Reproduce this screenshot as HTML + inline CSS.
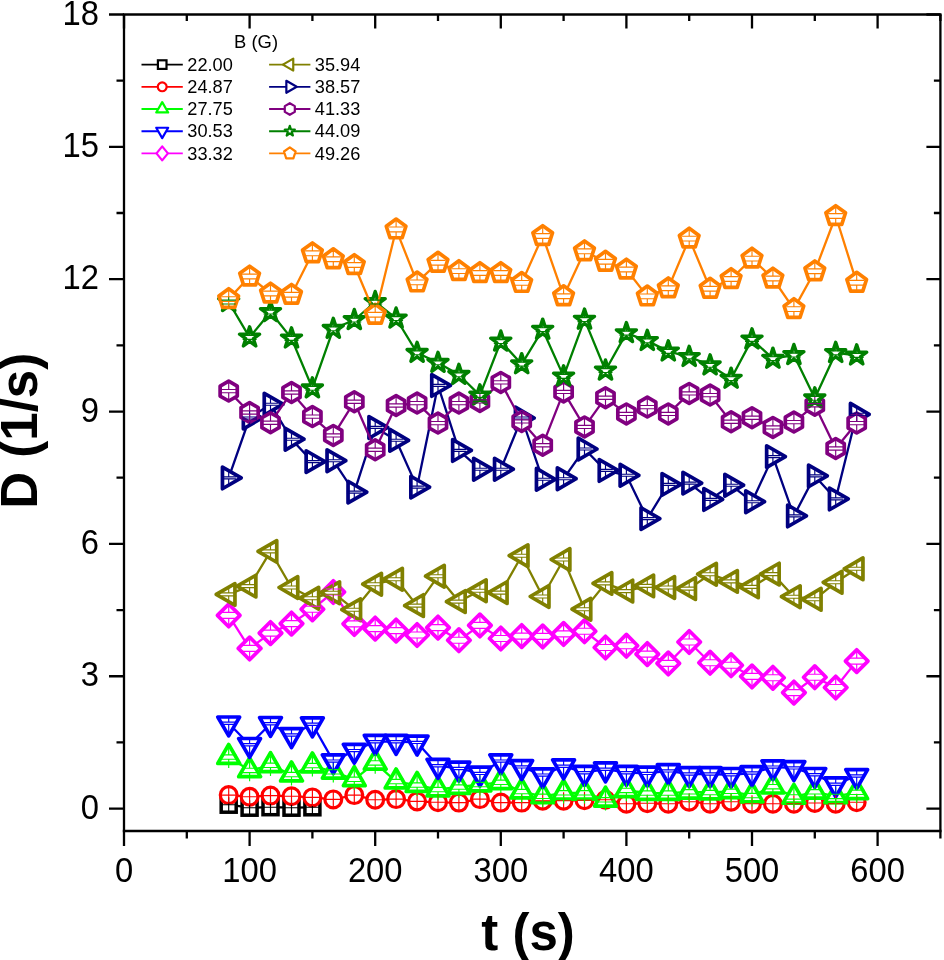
<!DOCTYPE html>
<html><head><meta charset="utf-8"><title>D vs t</title>
<style>html,body{margin:0;padding:0;background:#fff}svg{display:block}</style>
</head><body>
<svg width="944" height="960" viewBox="0 0 944 960">
<rect width="944" height="960" fill="#fff"/>
<defs>
<g id="m_black"><rect x="-7.5" y="-7.5" width="15" height="15" fill="#fff" stroke="#000000" stroke-width="3.5" stroke-linejoin="miter"/></g><path id="e_black" d="M0,-7.5V7.5M-7.0,0H7.0" fill="none" stroke="#000000" stroke-width="1.15"/>
<g id="m_red"><circle r="8.4" fill="#fff" stroke="#ff0000" stroke-width="3.2" stroke-linejoin="round"/></g><path id="e_red" d="M0,-8.5V8.5M-7.6,0H7.6" fill="none" stroke="#ff0000" stroke-width="1.15"/>
<g id="m_lgreen"><polygon points="0.00,-12.60 10.91,6.30 -10.91,6.30" fill="#fff" stroke="#00ff00" stroke-width="3.7" stroke-linejoin="round"/></g><path id="e_lgreen" d="M0,-9.0V-2.2M0,2.2V10.8M-7.6,-2.20H7.6M-7.6,2.20H7.6" fill="none" stroke="#00ff00" stroke-width="1.15"/>
<g id="m_blue"><polygon points="0.00,12.60 -10.91,-6.30 10.91,-6.30" fill="#fff" stroke="#0000ff" stroke-width="3.7" stroke-linejoin="round"/></g><path id="e_blue" d="M0,-7.0V-1.1M0,1.1V10.0M-7.6,-1.10H7.6M-7.6,1.10H7.6" fill="none" stroke="#0000ff" stroke-width="1.15"/>
<g id="m_magenta"><polygon points="0.00,-11.30 11.30,0.00 0.00,11.30 -11.30,0.00" fill="#fff" stroke="#ff00ff" stroke-width="3.7" stroke-linejoin="round"/></g><path id="e_magenta" d="M0,-10.0V-3.0M0,3.0V10.0M-7.6,-3.00H7.6M-7.6,3.00H7.6" fill="none" stroke="#ff00ff" stroke-width="1.15"/>
<g id="m_olive"><polygon points="-12.50,0.00 6.25,-10.83 6.25,10.83" fill="#fff" stroke="#808000" stroke-width="3.7" stroke-linejoin="round"/></g><path id="e_olive" d="M0,-7.0V-1.5M0,1.5V7.0M-7.4,-1.50H7.4M-7.4,1.50H7.4" fill="none" stroke="#808000" stroke-width="1.15"/>
<g id="m_navy"><polygon points="12.50,0.00 -6.25,10.83 -6.25,-10.83" fill="#fff" stroke="#000080" stroke-width="3.7" stroke-linejoin="round"/></g><path id="e_navy" d="M0,-7.0V-1.0M0,1.0V7.0M-7.4,-1.00H7.4M-7.4,1.00H7.4" fill="none" stroke="#000080" stroke-width="1.15"/>
<g id="m_purple"><polygon points="0.00,-9.90 8.57,-4.95 8.57,4.95 0.00,9.90 -8.57,4.95 -8.57,-4.95" fill="#fff" stroke="#800080" stroke-width="3.7" stroke-linejoin="round"/></g><path id="e_purple" d="M0,-10.0V-1.6M0,1.6V10.0M-7.6,-1.60H7.6M-7.6,1.60H7.6" fill="none" stroke="#800080" stroke-width="1.15"/>
<g id="m_dgreen"><polygon points="0.00,-10.55 2.38,-3.28 10.03,-3.26 3.85,1.25 6.20,8.54 0.00,4.05 -6.20,8.54 -3.85,1.25 -10.03,-3.26 -2.38,-3.28" fill="#fff" stroke="#008000" stroke-width="3.4" stroke-linejoin="round"/></g><path id="e_dgreen" d="M0,-6.0V-1.9M0,1.9V5.2M-7.0,-1.95H7.0M-7.0,1.95H7.0" fill="none" stroke="#008000" stroke-width="1.15"/>
<g id="m_orange"><polygon points="0.00,-10.35 9.84,-3.20 6.08,8.37 -6.08,8.37 -9.84,-3.20" fill="#fff" stroke="#ff8000" stroke-width="3.7" stroke-linejoin="round"/></g><path id="e_orange" d="M0,-10.0V-2.4M0,2.4V9.5M-7.6,-2.40H7.6M-7.6,2.40H7.6" fill="none" stroke="#ff8000" stroke-width="1.15"/>
</defs>
<g stroke="#000" stroke-width="2.3" fill="none" stroke-linecap="butt">
<path d="M122.8,14.5H941.5"/>
<path d="M122.8,831.0H941.5"/>
<path d="M124.0,14.5V831.0"/>
<path d="M940.4,14.5V831.0"/>
<path d="M124.00,831.0v15.0M124.00,14.5v14.0M186.80,831.0v7.5M186.80,14.5v6.5M249.60,831.0v15.0M249.60,14.5v14.0M312.40,831.0v7.5M312.40,14.5v6.5M375.20,831.0v15.0M375.20,14.5v14.0M438.00,831.0v7.5M438.00,14.5v6.5M500.80,831.0v15.0M500.80,14.5v14.0M563.60,831.0v7.5M563.60,14.5v6.5M626.40,831.0v15.0M626.40,14.5v14.0M689.20,831.0v7.5M689.20,14.5v6.5M752.00,831.0v15.0M752.00,14.5v14.0M814.80,831.0v7.5M814.80,14.5v6.5M877.60,831.0v15.0M877.60,14.5v14.0M940.40,831.0v7.5M940.40,14.5v6.5M124.0,808.60h-15.0M940.4,808.60h-14.0M124.0,742.42h-7.5M940.4,742.42h-6.5M124.0,676.25h-15.0M940.4,676.25h-14.0M124.0,610.07h-7.5M940.4,610.07h-6.5M124.0,543.90h-15.0M940.4,543.90h-14.0M124.0,477.72h-7.5M940.4,477.72h-6.5M124.0,411.55h-15.0M940.4,411.55h-14.0M124.0,345.37h-7.5M940.4,345.37h-6.5M124.0,279.20h-15.0M940.4,279.20h-14.0M124.0,213.02h-7.5M940.4,213.02h-6.5M124.0,146.85h-15.0M940.4,146.85h-14.0M124.0,80.67h-7.5M940.4,80.67h-6.5M124.0,14.49h-15.0M940.4,14.49h-14.0"/>
</g>
<g font-family="'Liberation Sans', Arial, sans-serif" font-size="34.5" fill="#000">
<text transform="translate(124.0,882.1) scale(0.95,1)" text-anchor="middle">0</text>
<text transform="translate(249.6,882.1) scale(0.95,1)" text-anchor="middle">100</text>
<text transform="translate(375.2,882.1) scale(0.95,1)" text-anchor="middle">200</text>
<text transform="translate(500.8,882.1) scale(0.95,1)" text-anchor="middle">300</text>
<text transform="translate(626.4,882.1) scale(0.95,1)" text-anchor="middle">400</text>
<text transform="translate(752.0,882.1) scale(0.95,1)" text-anchor="middle">500</text>
<text transform="translate(877.6,882.1) scale(0.95,1)" text-anchor="middle">600</text>
<text transform="translate(99,818.8) scale(0.95,1)" text-anchor="end">0</text>
<text transform="translate(99,686.4) scale(0.95,1)" text-anchor="end">3</text>
<text transform="translate(99,554.1) scale(0.95,1)" text-anchor="end">6</text>
<text transform="translate(99,421.7) scale(0.95,1)" text-anchor="end">9</text>
<text transform="translate(99,289.4) scale(0.95,1)" text-anchor="end">12</text>
<text transform="translate(99,157.0) scale(0.95,1)" text-anchor="end">15</text>
<text transform="translate(99,24.7) scale(0.95,1)" text-anchor="end">18</text>
</g>
<g font-family="'Liberation Sans', Arial, sans-serif" font-size="51" font-weight="bold" fill="#000">
<text x="481.3" y="949.7">t (s)</text>
<text transform="translate(36.6,508.7) rotate(-90)">D (1/s)</text>
</g>
<g>
<polyline points="228.67,804.70 249.60,807.70 270.53,807.20 291.47,807.70 312.40,807.30" fill="none" stroke="#000000" stroke-width="2.3" stroke-linejoin="round"/>
<use href="#m_black" x="228.7" y="804.7"/>
<use href="#m_black" x="249.6" y="807.7"/>
<use href="#m_black" x="270.5" y="807.2"/>
<use href="#m_black" x="291.5" y="807.7"/>
<use href="#m_black" x="312.4" y="807.3"/>
</g>
<g>
<polyline points="228.67,795.10 249.60,796.70 270.53,795.60 291.47,796.20 312.40,797.40 333.33,799.40 354.27,795.10 375.20,799.80 396.13,799.10 417.07,801.40 438.00,802.30 458.93,802.60 479.87,799.10 500.80,802.60 521.73,802.60 542.67,800.70 563.60,800.70 584.53,800.20 605.47,799.80 626.40,803.70 647.33,803.30 668.27,803.70 689.20,801.70 710.13,803.70 731.07,801.70 752.00,803.70 772.93,803.70 793.87,803.70 814.80,803.00 835.73,803.70 856.67,802.20" fill="none" stroke="#ff0000" stroke-width="2.3" stroke-linejoin="round"/>
<use href="#m_red" x="228.7" y="795.1"/>
<use href="#m_red" x="249.6" y="796.7"/>
<use href="#m_red" x="270.5" y="795.6"/>
<use href="#m_red" x="291.5" y="796.2"/>
<use href="#m_red" x="312.4" y="797.4"/>
<use href="#m_red" x="333.3" y="799.4"/>
<use href="#m_red" x="354.3" y="795.1"/>
<use href="#m_red" x="375.2" y="799.8"/>
<use href="#m_red" x="396.1" y="799.1"/>
<use href="#m_red" x="417.1" y="801.4"/>
<use href="#m_red" x="438.0" y="802.3"/>
<use href="#m_red" x="458.9" y="802.6"/>
<use href="#m_red" x="479.9" y="799.1"/>
<use href="#m_red" x="500.8" y="802.6"/>
<use href="#m_red" x="521.7" y="802.6"/>
<use href="#m_red" x="542.7" y="800.7"/>
<use href="#m_red" x="563.6" y="800.7"/>
<use href="#m_red" x="584.5" y="800.2"/>
<use href="#m_red" x="605.5" y="799.8"/>
<use href="#m_red" x="626.4" y="803.7"/>
<use href="#m_red" x="647.3" y="803.3"/>
<use href="#m_red" x="668.3" y="803.7"/>
<use href="#m_red" x="689.2" y="801.7"/>
<use href="#m_red" x="710.1" y="803.7"/>
<use href="#m_red" x="731.1" y="801.7"/>
<use href="#m_red" x="752.0" y="803.7"/>
<use href="#m_red" x="772.9" y="803.7"/>
<use href="#m_red" x="793.9" y="803.7"/>
<use href="#m_red" x="814.8" y="803.0"/>
<use href="#m_red" x="835.7" y="803.7"/>
<use href="#m_red" x="856.7" y="802.2"/>
</g>
<g>
<polyline points="228.67,757.10 249.60,770.40 270.53,765.30 291.47,774.60 312.40,765.60 333.33,771.80 354.27,779.30 375.20,762.90 396.13,781.60 417.07,785.10 438.00,789.50 458.93,787.00 479.87,784.60 500.80,782.30 521.73,791.60 542.67,796.30 563.60,792.80 584.53,792.80 605.47,799.80 626.40,790.40 647.33,793.00 668.27,793.10 689.20,791.80 710.13,792.50 731.07,791.30 752.00,795.60 772.93,786.70 793.87,796.90 814.80,791.80 835.73,796.40 856.67,792.30" fill="none" stroke="#00ff00" stroke-width="2.3" stroke-linejoin="round"/>
<use href="#m_lgreen" x="228.7" y="757.1"/>
<use href="#m_lgreen" x="249.6" y="770.4"/>
<use href="#m_lgreen" x="270.5" y="765.3"/>
<use href="#m_lgreen" x="291.5" y="774.6"/>
<use href="#m_lgreen" x="312.4" y="765.6"/>
<use href="#m_lgreen" x="333.3" y="771.8"/>
<use href="#m_lgreen" x="354.3" y="779.3"/>
<use href="#m_lgreen" x="375.2" y="762.9"/>
<use href="#m_lgreen" x="396.1" y="781.6"/>
<use href="#m_lgreen" x="417.1" y="785.1"/>
<use href="#m_lgreen" x="438.0" y="789.5"/>
<use href="#m_lgreen" x="458.9" y="787.0"/>
<use href="#m_lgreen" x="479.9" y="784.6"/>
<use href="#m_lgreen" x="500.8" y="782.3"/>
<use href="#m_lgreen" x="521.7" y="791.6"/>
<use href="#m_lgreen" x="542.7" y="796.3"/>
<use href="#m_lgreen" x="563.6" y="792.8"/>
<use href="#m_lgreen" x="584.5" y="792.8"/>
<use href="#m_lgreen" x="605.5" y="799.8"/>
<use href="#m_lgreen" x="626.4" y="790.4"/>
<use href="#m_lgreen" x="647.3" y="793.0"/>
<use href="#m_lgreen" x="668.3" y="793.1"/>
<use href="#m_lgreen" x="689.2" y="791.8"/>
<use href="#m_lgreen" x="710.1" y="792.5"/>
<use href="#m_lgreen" x="731.1" y="791.3"/>
<use href="#m_lgreen" x="752.0" y="795.6"/>
<use href="#m_lgreen" x="772.9" y="786.7"/>
<use href="#m_lgreen" x="793.9" y="796.9"/>
<use href="#m_lgreen" x="814.8" y="791.8"/>
<use href="#m_lgreen" x="835.7" y="796.4"/>
<use href="#m_lgreen" x="856.7" y="792.3"/>
</g>
<g>
<polyline points="228.67,723.30 249.60,744.80 270.53,723.80 291.47,735.00 312.40,724.20 333.33,761.10 354.27,750.60 375.20,741.70 396.13,741.70 417.07,742.40 438.00,765.70 458.93,768.50 479.87,773.40 500.80,761.10 521.73,766.90 542.67,775.10 563.60,766.20 584.53,772.70 605.47,769.20 626.40,772.70 647.33,773.40 668.27,770.90 689.20,774.00 710.13,774.00 731.07,774.80 752.00,773.00 772.93,767.10 793.87,767.90 814.80,774.80 835.73,784.20 856.67,776.00" fill="none" stroke="#0000ff" stroke-width="2.3" stroke-linejoin="round"/>
<use href="#m_blue" x="228.7" y="723.3"/>
<use href="#m_blue" x="249.6" y="744.8"/>
<use href="#m_blue" x="270.5" y="723.8"/>
<use href="#m_blue" x="291.5" y="735.0"/>
<use href="#m_blue" x="312.4" y="724.2"/>
<use href="#m_blue" x="333.3" y="761.1"/>
<use href="#m_blue" x="354.3" y="750.6"/>
<use href="#m_blue" x="375.2" y="741.7"/>
<use href="#m_blue" x="396.1" y="741.7"/>
<use href="#m_blue" x="417.1" y="742.4"/>
<use href="#m_blue" x="438.0" y="765.7"/>
<use href="#m_blue" x="458.9" y="768.5"/>
<use href="#m_blue" x="479.9" y="773.4"/>
<use href="#m_blue" x="500.8" y="761.1"/>
<use href="#m_blue" x="521.7" y="766.9"/>
<use href="#m_blue" x="542.7" y="775.1"/>
<use href="#m_blue" x="563.6" y="766.2"/>
<use href="#m_blue" x="584.5" y="772.7"/>
<use href="#m_blue" x="605.5" y="769.2"/>
<use href="#m_blue" x="626.4" y="772.7"/>
<use href="#m_blue" x="647.3" y="773.4"/>
<use href="#m_blue" x="668.3" y="770.9"/>
<use href="#m_blue" x="689.2" y="774.0"/>
<use href="#m_blue" x="710.1" y="774.0"/>
<use href="#m_blue" x="731.1" y="774.8"/>
<use href="#m_blue" x="752.0" y="773.0"/>
<use href="#m_blue" x="772.9" y="767.1"/>
<use href="#m_blue" x="793.9" y="767.9"/>
<use href="#m_blue" x="814.8" y="774.8"/>
<use href="#m_blue" x="835.7" y="784.2"/>
<use href="#m_blue" x="856.7" y="776.0"/>
</g>
<g>
<polyline points="228.67,615.40 249.60,648.40 270.53,633.10 291.47,623.60 312.40,609.30 333.33,592.00 354.27,623.90 375.20,628.60 396.13,630.60 417.07,635.00 438.00,627.60 458.93,640.20 479.87,625.40 500.80,638.50 521.73,636.10 542.67,636.40 563.60,633.90 584.53,631.20 605.47,647.50 626.40,645.70 647.33,654.10 668.27,663.40 689.20,642.00 710.13,662.70 731.07,665.20 752.00,676.40 772.93,677.80 793.87,692.60 814.80,677.20 835.73,687.50 856.67,661.10" fill="none" stroke="#ff00ff" stroke-width="2.3" stroke-linejoin="round"/>
<use href="#m_magenta" x="228.7" y="615.4"/>
<use href="#m_magenta" x="249.6" y="648.4"/>
<use href="#m_magenta" x="270.5" y="633.1"/>
<use href="#m_magenta" x="291.5" y="623.6"/>
<use href="#m_magenta" x="312.4" y="609.3"/>
<use href="#m_magenta" x="333.3" y="592.0"/>
<use href="#m_magenta" x="354.3" y="623.9"/>
<use href="#m_magenta" x="375.2" y="628.6"/>
<use href="#m_magenta" x="396.1" y="630.6"/>
<use href="#m_magenta" x="417.1" y="635.0"/>
<use href="#m_magenta" x="438.0" y="627.6"/>
<use href="#m_magenta" x="458.9" y="640.2"/>
<use href="#m_magenta" x="479.9" y="625.4"/>
<use href="#m_magenta" x="500.8" y="638.5"/>
<use href="#m_magenta" x="521.7" y="636.1"/>
<use href="#m_magenta" x="542.7" y="636.4"/>
<use href="#m_magenta" x="563.6" y="633.9"/>
<use href="#m_magenta" x="584.5" y="631.2"/>
<use href="#m_magenta" x="605.5" y="647.5"/>
<use href="#m_magenta" x="626.4" y="645.7"/>
<use href="#m_magenta" x="647.3" y="654.1"/>
<use href="#m_magenta" x="668.3" y="663.4"/>
<use href="#m_magenta" x="689.2" y="642.0"/>
<use href="#m_magenta" x="710.1" y="662.7"/>
<use href="#m_magenta" x="731.1" y="665.2"/>
<use href="#m_magenta" x="752.0" y="676.4"/>
<use href="#m_magenta" x="772.9" y="677.8"/>
<use href="#m_magenta" x="793.9" y="692.6"/>
<use href="#m_magenta" x="814.8" y="677.2"/>
<use href="#m_magenta" x="835.7" y="687.5"/>
<use href="#m_magenta" x="856.7" y="661.1"/>
</g>
<g>
<polyline points="228.67,594.40 249.60,586.10 270.53,551.40 291.47,587.50 312.40,598.20 333.33,592.70 354.27,609.70 375.20,584.20 396.13,579.20 417.07,605.60 438.00,576.20 458.93,601.60 479.87,590.70 500.80,592.60 521.73,555.70 542.67,596.50 563.60,559.50 584.53,609.20 605.47,583.40 626.40,591.10 647.33,585.90 668.27,587.50 689.20,588.60 710.13,574.20 731.07,581.40 752.00,586.90 772.93,574.10 793.87,596.70 814.80,599.30 835.73,582.30 856.67,568.80" fill="none" stroke="#808000" stroke-width="2.3" stroke-linejoin="round"/>
<use href="#m_olive" x="228.7" y="594.4"/>
<use href="#m_olive" x="249.6" y="586.1"/>
<use href="#m_olive" x="270.5" y="551.4"/>
<use href="#m_olive" x="291.5" y="587.5"/>
<use href="#m_olive" x="312.4" y="598.2"/>
<use href="#m_olive" x="333.3" y="592.7"/>
<use href="#m_olive" x="354.3" y="609.7"/>
<use href="#m_olive" x="375.2" y="584.2"/>
<use href="#m_olive" x="396.1" y="579.2"/>
<use href="#m_olive" x="417.1" y="605.6"/>
<use href="#m_olive" x="438.0" y="576.2"/>
<use href="#m_olive" x="458.9" y="601.6"/>
<use href="#m_olive" x="479.9" y="590.7"/>
<use href="#m_olive" x="500.8" y="592.6"/>
<use href="#m_olive" x="521.7" y="555.7"/>
<use href="#m_olive" x="542.7" y="596.5"/>
<use href="#m_olive" x="563.6" y="559.5"/>
<use href="#m_olive" x="584.5" y="609.2"/>
<use href="#m_olive" x="605.5" y="583.4"/>
<use href="#m_olive" x="626.4" y="591.1"/>
<use href="#m_olive" x="647.3" y="585.9"/>
<use href="#m_olive" x="668.3" y="587.5"/>
<use href="#m_olive" x="689.2" y="588.6"/>
<use href="#m_olive" x="710.1" y="574.2"/>
<use href="#m_olive" x="731.1" y="581.4"/>
<use href="#m_olive" x="752.0" y="586.9"/>
<use href="#m_olive" x="772.9" y="574.1"/>
<use href="#m_olive" x="793.9" y="596.7"/>
<use href="#m_olive" x="814.8" y="599.3"/>
<use href="#m_olive" x="835.7" y="582.3"/>
<use href="#m_olive" x="856.7" y="568.8"/>
</g>
<g>
<polyline points="228.67,477.90 249.60,418.00 270.53,404.20 291.47,439.20 312.40,461.60 333.33,460.70 354.27,492.10 375.20,427.40 396.13,440.30 417.07,487.10 438.00,385.40 458.93,450.40 479.87,469.20 500.80,469.20 521.73,418.00 542.67,479.30 563.60,478.70 584.53,449.00 605.47,470.40 626.40,475.30 647.33,518.60 668.27,484.40 689.20,483.10 710.13,499.40 731.07,485.20 752.00,501.70 772.93,456.60 793.87,515.90 814.80,475.90 835.73,498.90 856.67,414.30" fill="none" stroke="#000080" stroke-width="2.3" stroke-linejoin="round"/>
<use href="#m_navy" x="228.7" y="477.9"/>
<use href="#m_navy" x="249.6" y="418.0"/>
<use href="#m_navy" x="270.5" y="404.2"/>
<use href="#m_navy" x="291.5" y="439.2"/>
<use href="#m_navy" x="312.4" y="461.6"/>
<use href="#m_navy" x="333.3" y="460.7"/>
<use href="#m_navy" x="354.3" y="492.1"/>
<use href="#m_navy" x="375.2" y="427.4"/>
<use href="#m_navy" x="396.1" y="440.3"/>
<use href="#m_navy" x="417.1" y="487.1"/>
<use href="#m_navy" x="438.0" y="385.4"/>
<use href="#m_navy" x="458.9" y="450.4"/>
<use href="#m_navy" x="479.9" y="469.2"/>
<use href="#m_navy" x="500.8" y="469.2"/>
<use href="#m_navy" x="521.7" y="418.0"/>
<use href="#m_navy" x="542.7" y="479.3"/>
<use href="#m_navy" x="563.6" y="478.7"/>
<use href="#m_navy" x="584.5" y="449.0"/>
<use href="#m_navy" x="605.5" y="470.4"/>
<use href="#m_navy" x="626.4" y="475.3"/>
<use href="#m_navy" x="647.3" y="518.6"/>
<use href="#m_navy" x="668.3" y="484.4"/>
<use href="#m_navy" x="689.2" y="483.1"/>
<use href="#m_navy" x="710.1" y="499.4"/>
<use href="#m_navy" x="731.1" y="485.2"/>
<use href="#m_navy" x="752.0" y="501.7"/>
<use href="#m_navy" x="772.9" y="456.6"/>
<use href="#m_navy" x="793.9" y="515.9"/>
<use href="#m_navy" x="814.8" y="475.9"/>
<use href="#m_navy" x="835.7" y="498.9"/>
<use href="#m_navy" x="856.7" y="414.3"/>
</g>
<g>
<polyline points="228.67,391.10 249.60,412.50 270.53,422.70 291.47,392.50 312.40,416.60 333.33,435.40 354.27,401.80 375.20,449.80 396.13,405.50 417.07,403.10 438.00,423.10 458.93,403.10 479.87,401.40 500.80,382.40 521.73,421.40 542.67,445.20 563.60,391.90 584.53,426.90 605.47,397.70 626.40,413.90 647.33,407.10 668.27,413.90 689.20,393.40 710.13,395.10 731.07,421.80 752.00,417.70 772.93,427.40 793.87,422.10 814.80,405.20 835.73,448.50 856.67,423.10" fill="none" stroke="#800080" stroke-width="2.3" stroke-linejoin="round"/>
<use href="#m_purple" x="228.7" y="391.1"/>
<use href="#m_purple" x="249.6" y="412.5"/>
<use href="#m_purple" x="270.5" y="422.7"/>
<use href="#m_purple" x="291.5" y="392.5"/>
<use href="#m_purple" x="312.4" y="416.6"/>
<use href="#m_purple" x="333.3" y="435.4"/>
<use href="#m_purple" x="354.3" y="401.8"/>
<use href="#m_purple" x="375.2" y="449.8"/>
<use href="#m_purple" x="396.1" y="405.5"/>
<use href="#m_purple" x="417.1" y="403.1"/>
<use href="#m_purple" x="438.0" y="423.1"/>
<use href="#m_purple" x="458.9" y="403.1"/>
<use href="#m_purple" x="479.9" y="401.4"/>
<use href="#m_purple" x="500.8" y="382.4"/>
<use href="#m_purple" x="521.7" y="421.4"/>
<use href="#m_purple" x="542.7" y="445.2"/>
<use href="#m_purple" x="563.6" y="391.9"/>
<use href="#m_purple" x="584.5" y="426.9"/>
<use href="#m_purple" x="605.5" y="397.7"/>
<use href="#m_purple" x="626.4" y="413.9"/>
<use href="#m_purple" x="647.3" y="407.1"/>
<use href="#m_purple" x="668.3" y="413.9"/>
<use href="#m_purple" x="689.2" y="393.4"/>
<use href="#m_purple" x="710.1" y="395.1"/>
<use href="#m_purple" x="731.1" y="421.8"/>
<use href="#m_purple" x="752.0" y="417.7"/>
<use href="#m_purple" x="772.9" y="427.4"/>
<use href="#m_purple" x="793.9" y="422.1"/>
<use href="#m_purple" x="814.8" y="405.2"/>
<use href="#m_purple" x="835.7" y="448.5"/>
<use href="#m_purple" x="856.7" y="423.1"/>
</g>
<g>
<polyline points="228.67,302.00 249.60,337.40 270.53,312.00 291.47,338.40 312.40,388.30 333.33,328.80 354.27,320.00 375.20,302.00 396.13,318.50 417.07,352.80 438.00,362.80 458.93,374.80 479.87,395.40 500.80,341.50 521.73,364.20 542.67,329.70 563.60,376.40 584.53,319.60 605.47,370.50 626.40,333.10 647.33,340.90 668.27,351.40 689.20,356.90 710.13,365.30 731.07,378.70 752.00,339.40 772.93,358.70 793.87,355.00 814.80,398.30 835.73,352.90 856.67,355.40" fill="none" stroke="#008000" stroke-width="2.3" stroke-linejoin="round"/>
<use href="#m_dgreen" x="228.7" y="302.0"/>
<use href="#m_dgreen" x="249.6" y="337.4"/>
<use href="#m_dgreen" x="270.5" y="312.0"/>
<use href="#m_dgreen" x="291.5" y="338.4"/>
<use href="#m_dgreen" x="312.4" y="388.3"/>
<use href="#m_dgreen" x="333.3" y="328.8"/>
<use href="#m_dgreen" x="354.3" y="320.0"/>
<use href="#m_dgreen" x="375.2" y="302.0"/>
<use href="#m_dgreen" x="396.1" y="318.5"/>
<use href="#m_dgreen" x="417.1" y="352.8"/>
<use href="#m_dgreen" x="438.0" y="362.8"/>
<use href="#m_dgreen" x="458.9" y="374.8"/>
<use href="#m_dgreen" x="479.9" y="395.4"/>
<use href="#m_dgreen" x="500.8" y="341.5"/>
<use href="#m_dgreen" x="521.7" y="364.2"/>
<use href="#m_dgreen" x="542.7" y="329.7"/>
<use href="#m_dgreen" x="563.6" y="376.4"/>
<use href="#m_dgreen" x="584.5" y="319.6"/>
<use href="#m_dgreen" x="605.5" y="370.5"/>
<use href="#m_dgreen" x="626.4" y="333.1"/>
<use href="#m_dgreen" x="647.3" y="340.9"/>
<use href="#m_dgreen" x="668.3" y="351.4"/>
<use href="#m_dgreen" x="689.2" y="356.9"/>
<use href="#m_dgreen" x="710.1" y="365.3"/>
<use href="#m_dgreen" x="731.1" y="378.7"/>
<use href="#m_dgreen" x="752.0" y="339.4"/>
<use href="#m_dgreen" x="772.9" y="358.7"/>
<use href="#m_dgreen" x="793.9" y="355.0"/>
<use href="#m_dgreen" x="814.8" y="398.3"/>
<use href="#m_dgreen" x="835.7" y="352.9"/>
<use href="#m_dgreen" x="856.7" y="355.4"/>
</g>
<g>
<polyline points="228.67,299.10 249.60,276.50 270.53,293.50 291.47,294.80 312.40,253.30 333.33,259.20 354.27,265.00 375.20,314.70 396.13,229.40 417.07,282.40 438.00,262.70 458.93,271.10 479.87,273.00 500.80,273.00 521.73,282.90 542.67,236.00 563.60,296.20 584.53,251.30 605.47,261.70 626.40,269.50 647.33,296.40 668.27,288.30 689.20,238.60 710.13,288.70 731.07,279.00 752.00,258.60 772.93,278.50 793.87,309.10 814.80,271.30 835.73,216.00 856.67,282.70" fill="none" stroke="#ff8000" stroke-width="2.3" stroke-linejoin="round"/>
<use href="#m_orange" x="228.7" y="299.1"/>
<use href="#m_orange" x="249.6" y="276.5"/>
<use href="#m_orange" x="270.5" y="293.5"/>
<use href="#m_orange" x="291.5" y="294.8"/>
<use href="#m_orange" x="312.4" y="253.3"/>
<use href="#m_orange" x="333.3" y="259.2"/>
<use href="#m_orange" x="354.3" y="265.0"/>
<use href="#m_orange" x="375.2" y="314.7"/>
<use href="#m_orange" x="396.1" y="229.4"/>
<use href="#m_orange" x="417.1" y="282.4"/>
<use href="#m_orange" x="438.0" y="262.7"/>
<use href="#m_orange" x="458.9" y="271.1"/>
<use href="#m_orange" x="479.9" y="273.0"/>
<use href="#m_orange" x="500.8" y="273.0"/>
<use href="#m_orange" x="521.7" y="282.9"/>
<use href="#m_orange" x="542.7" y="236.0"/>
<use href="#m_orange" x="563.6" y="296.2"/>
<use href="#m_orange" x="584.5" y="251.3"/>
<use href="#m_orange" x="605.5" y="261.7"/>
<use href="#m_orange" x="626.4" y="269.5"/>
<use href="#m_orange" x="647.3" y="296.4"/>
<use href="#m_orange" x="668.3" y="288.3"/>
<use href="#m_orange" x="689.2" y="238.6"/>
<use href="#m_orange" x="710.1" y="288.7"/>
<use href="#m_orange" x="731.1" y="279.0"/>
<use href="#m_orange" x="752.0" y="258.6"/>
<use href="#m_orange" x="772.9" y="278.5"/>
<use href="#m_orange" x="793.9" y="309.1"/>
<use href="#m_orange" x="814.8" y="271.3"/>
<use href="#m_orange" x="835.7" y="216.0"/>
<use href="#m_orange" x="856.7" y="282.7"/>
</g>
<g>
<use href="#e_black" x="228.7" y="804.7"/>
<use href="#e_black" x="249.6" y="807.7"/>
<use href="#e_black" x="270.5" y="807.2"/>
<use href="#e_black" x="291.5" y="807.7"/>
<use href="#e_black" x="312.4" y="807.3"/>
<use href="#e_red" x="228.7" y="795.1"/>
<use href="#e_red" x="249.6" y="796.7"/>
<use href="#e_red" x="270.5" y="795.6"/>
<use href="#e_red" x="291.5" y="796.2"/>
<use href="#e_red" x="312.4" y="797.4"/>
<use href="#e_red" x="333.3" y="799.4"/>
<use href="#e_red" x="354.3" y="795.1"/>
<use href="#e_red" x="375.2" y="799.8"/>
<use href="#e_red" x="396.1" y="799.1"/>
<use href="#e_red" x="417.1" y="801.4"/>
<use href="#e_red" x="438.0" y="802.3"/>
<use href="#e_red" x="458.9" y="802.6"/>
<use href="#e_red" x="479.9" y="799.1"/>
<use href="#e_red" x="500.8" y="802.6"/>
<use href="#e_red" x="521.7" y="802.6"/>
<use href="#e_red" x="542.7" y="800.7"/>
<use href="#e_red" x="563.6" y="800.7"/>
<use href="#e_red" x="584.5" y="800.2"/>
<use href="#e_red" x="605.5" y="799.8"/>
<use href="#e_red" x="626.4" y="803.7"/>
<use href="#e_red" x="647.3" y="803.3"/>
<use href="#e_red" x="668.3" y="803.7"/>
<use href="#e_red" x="689.2" y="801.7"/>
<use href="#e_red" x="710.1" y="803.7"/>
<use href="#e_red" x="731.1" y="801.7"/>
<use href="#e_red" x="752.0" y="803.7"/>
<use href="#e_red" x="772.9" y="803.7"/>
<use href="#e_red" x="793.9" y="803.7"/>
<use href="#e_red" x="814.8" y="803.0"/>
<use href="#e_red" x="835.7" y="803.7"/>
<use href="#e_red" x="856.7" y="802.2"/>
<use href="#e_lgreen" x="228.7" y="757.1"/>
<use href="#e_lgreen" x="249.6" y="770.4"/>
<use href="#e_lgreen" x="270.5" y="765.3"/>
<use href="#e_lgreen" x="291.5" y="774.6"/>
<use href="#e_lgreen" x="312.4" y="765.6"/>
<use href="#e_lgreen" x="333.3" y="771.8"/>
<use href="#e_lgreen" x="354.3" y="779.3"/>
<use href="#e_lgreen" x="375.2" y="762.9"/>
<use href="#e_lgreen" x="396.1" y="781.6"/>
<use href="#e_lgreen" x="417.1" y="785.1"/>
<use href="#e_lgreen" x="438.0" y="789.5"/>
<use href="#e_lgreen" x="458.9" y="787.0"/>
<use href="#e_lgreen" x="479.9" y="784.6"/>
<use href="#e_lgreen" x="500.8" y="782.3"/>
<use href="#e_lgreen" x="521.7" y="791.6"/>
<use href="#e_lgreen" x="542.7" y="796.3"/>
<use href="#e_lgreen" x="563.6" y="792.8"/>
<use href="#e_lgreen" x="584.5" y="792.8"/>
<use href="#e_lgreen" x="605.5" y="799.8"/>
<use href="#e_lgreen" x="626.4" y="790.4"/>
<use href="#e_lgreen" x="647.3" y="793.0"/>
<use href="#e_lgreen" x="668.3" y="793.1"/>
<use href="#e_lgreen" x="689.2" y="791.8"/>
<use href="#e_lgreen" x="710.1" y="792.5"/>
<use href="#e_lgreen" x="731.1" y="791.3"/>
<use href="#e_lgreen" x="752.0" y="795.6"/>
<use href="#e_lgreen" x="772.9" y="786.7"/>
<use href="#e_lgreen" x="793.9" y="796.9"/>
<use href="#e_lgreen" x="814.8" y="791.8"/>
<use href="#e_lgreen" x="835.7" y="796.4"/>
<use href="#e_lgreen" x="856.7" y="792.3"/>
<use href="#e_blue" x="228.7" y="723.3"/>
<use href="#e_blue" x="249.6" y="744.8"/>
<use href="#e_blue" x="270.5" y="723.8"/>
<use href="#e_blue" x="291.5" y="735.0"/>
<use href="#e_blue" x="312.4" y="724.2"/>
<use href="#e_blue" x="333.3" y="761.1"/>
<use href="#e_blue" x="354.3" y="750.6"/>
<use href="#e_blue" x="375.2" y="741.7"/>
<use href="#e_blue" x="396.1" y="741.7"/>
<use href="#e_blue" x="417.1" y="742.4"/>
<use href="#e_blue" x="438.0" y="765.7"/>
<use href="#e_blue" x="458.9" y="768.5"/>
<use href="#e_blue" x="479.9" y="773.4"/>
<use href="#e_blue" x="500.8" y="761.1"/>
<use href="#e_blue" x="521.7" y="766.9"/>
<use href="#e_blue" x="542.7" y="775.1"/>
<use href="#e_blue" x="563.6" y="766.2"/>
<use href="#e_blue" x="584.5" y="772.7"/>
<use href="#e_blue" x="605.5" y="769.2"/>
<use href="#e_blue" x="626.4" y="772.7"/>
<use href="#e_blue" x="647.3" y="773.4"/>
<use href="#e_blue" x="668.3" y="770.9"/>
<use href="#e_blue" x="689.2" y="774.0"/>
<use href="#e_blue" x="710.1" y="774.0"/>
<use href="#e_blue" x="731.1" y="774.8"/>
<use href="#e_blue" x="752.0" y="773.0"/>
<use href="#e_blue" x="772.9" y="767.1"/>
<use href="#e_blue" x="793.9" y="767.9"/>
<use href="#e_blue" x="814.8" y="774.8"/>
<use href="#e_blue" x="835.7" y="784.2"/>
<use href="#e_blue" x="856.7" y="776.0"/>
<use href="#e_magenta" x="228.7" y="615.4"/>
<use href="#e_magenta" x="249.6" y="648.4"/>
<use href="#e_magenta" x="270.5" y="633.1"/>
<use href="#e_magenta" x="291.5" y="623.6"/>
<use href="#e_magenta" x="312.4" y="609.3"/>
<use href="#e_magenta" x="333.3" y="592.0"/>
<use href="#e_magenta" x="354.3" y="623.9"/>
<use href="#e_magenta" x="375.2" y="628.6"/>
<use href="#e_magenta" x="396.1" y="630.6"/>
<use href="#e_magenta" x="417.1" y="635.0"/>
<use href="#e_magenta" x="438.0" y="627.6"/>
<use href="#e_magenta" x="458.9" y="640.2"/>
<use href="#e_magenta" x="479.9" y="625.4"/>
<use href="#e_magenta" x="500.8" y="638.5"/>
<use href="#e_magenta" x="521.7" y="636.1"/>
<use href="#e_magenta" x="542.7" y="636.4"/>
<use href="#e_magenta" x="563.6" y="633.9"/>
<use href="#e_magenta" x="584.5" y="631.2"/>
<use href="#e_magenta" x="605.5" y="647.5"/>
<use href="#e_magenta" x="626.4" y="645.7"/>
<use href="#e_magenta" x="647.3" y="654.1"/>
<use href="#e_magenta" x="668.3" y="663.4"/>
<use href="#e_magenta" x="689.2" y="642.0"/>
<use href="#e_magenta" x="710.1" y="662.7"/>
<use href="#e_magenta" x="731.1" y="665.2"/>
<use href="#e_magenta" x="752.0" y="676.4"/>
<use href="#e_magenta" x="772.9" y="677.8"/>
<use href="#e_magenta" x="793.9" y="692.6"/>
<use href="#e_magenta" x="814.8" y="677.2"/>
<use href="#e_magenta" x="835.7" y="687.5"/>
<use href="#e_magenta" x="856.7" y="661.1"/>
<use href="#e_olive" x="228.7" y="594.4"/>
<use href="#e_olive" x="249.6" y="586.1"/>
<use href="#e_olive" x="270.5" y="551.4"/>
<use href="#e_olive" x="291.5" y="587.5"/>
<use href="#e_olive" x="312.4" y="598.2"/>
<use href="#e_olive" x="333.3" y="592.7"/>
<use href="#e_olive" x="354.3" y="609.7"/>
<use href="#e_olive" x="375.2" y="584.2"/>
<use href="#e_olive" x="396.1" y="579.2"/>
<use href="#e_olive" x="417.1" y="605.6"/>
<use href="#e_olive" x="438.0" y="576.2"/>
<use href="#e_olive" x="458.9" y="601.6"/>
<use href="#e_olive" x="479.9" y="590.7"/>
<use href="#e_olive" x="500.8" y="592.6"/>
<use href="#e_olive" x="521.7" y="555.7"/>
<use href="#e_olive" x="542.7" y="596.5"/>
<use href="#e_olive" x="563.6" y="559.5"/>
<use href="#e_olive" x="584.5" y="609.2"/>
<use href="#e_olive" x="605.5" y="583.4"/>
<use href="#e_olive" x="626.4" y="591.1"/>
<use href="#e_olive" x="647.3" y="585.9"/>
<use href="#e_olive" x="668.3" y="587.5"/>
<use href="#e_olive" x="689.2" y="588.6"/>
<use href="#e_olive" x="710.1" y="574.2"/>
<use href="#e_olive" x="731.1" y="581.4"/>
<use href="#e_olive" x="752.0" y="586.9"/>
<use href="#e_olive" x="772.9" y="574.1"/>
<use href="#e_olive" x="793.9" y="596.7"/>
<use href="#e_olive" x="814.8" y="599.3"/>
<use href="#e_olive" x="835.7" y="582.3"/>
<use href="#e_olive" x="856.7" y="568.8"/>
<use href="#e_navy" x="228.7" y="477.9"/>
<use href="#e_navy" x="249.6" y="418.0"/>
<use href="#e_navy" x="270.5" y="404.2"/>
<use href="#e_navy" x="291.5" y="439.2"/>
<use href="#e_navy" x="312.4" y="461.6"/>
<use href="#e_navy" x="333.3" y="460.7"/>
<use href="#e_navy" x="354.3" y="492.1"/>
<use href="#e_navy" x="375.2" y="427.4"/>
<use href="#e_navy" x="396.1" y="440.3"/>
<use href="#e_navy" x="417.1" y="487.1"/>
<use href="#e_navy" x="438.0" y="385.4"/>
<use href="#e_navy" x="458.9" y="450.4"/>
<use href="#e_navy" x="479.9" y="469.2"/>
<use href="#e_navy" x="500.8" y="469.2"/>
<use href="#e_navy" x="521.7" y="418.0"/>
<use href="#e_navy" x="542.7" y="479.3"/>
<use href="#e_navy" x="563.6" y="478.7"/>
<use href="#e_navy" x="584.5" y="449.0"/>
<use href="#e_navy" x="605.5" y="470.4"/>
<use href="#e_navy" x="626.4" y="475.3"/>
<use href="#e_navy" x="647.3" y="518.6"/>
<use href="#e_navy" x="668.3" y="484.4"/>
<use href="#e_navy" x="689.2" y="483.1"/>
<use href="#e_navy" x="710.1" y="499.4"/>
<use href="#e_navy" x="731.1" y="485.2"/>
<use href="#e_navy" x="752.0" y="501.7"/>
<use href="#e_navy" x="772.9" y="456.6"/>
<use href="#e_navy" x="793.9" y="515.9"/>
<use href="#e_navy" x="814.8" y="475.9"/>
<use href="#e_navy" x="835.7" y="498.9"/>
<use href="#e_navy" x="856.7" y="414.3"/>
<use href="#e_purple" x="228.7" y="391.1"/>
<use href="#e_purple" x="249.6" y="412.5"/>
<use href="#e_purple" x="270.5" y="422.7"/>
<use href="#e_purple" x="291.5" y="392.5"/>
<use href="#e_purple" x="312.4" y="416.6"/>
<use href="#e_purple" x="333.3" y="435.4"/>
<use href="#e_purple" x="354.3" y="401.8"/>
<use href="#e_purple" x="375.2" y="449.8"/>
<use href="#e_purple" x="396.1" y="405.5"/>
<use href="#e_purple" x="417.1" y="403.1"/>
<use href="#e_purple" x="438.0" y="423.1"/>
<use href="#e_purple" x="458.9" y="403.1"/>
<use href="#e_purple" x="479.9" y="401.4"/>
<use href="#e_purple" x="500.8" y="382.4"/>
<use href="#e_purple" x="521.7" y="421.4"/>
<use href="#e_purple" x="542.7" y="445.2"/>
<use href="#e_purple" x="563.6" y="391.9"/>
<use href="#e_purple" x="584.5" y="426.9"/>
<use href="#e_purple" x="605.5" y="397.7"/>
<use href="#e_purple" x="626.4" y="413.9"/>
<use href="#e_purple" x="647.3" y="407.1"/>
<use href="#e_purple" x="668.3" y="413.9"/>
<use href="#e_purple" x="689.2" y="393.4"/>
<use href="#e_purple" x="710.1" y="395.1"/>
<use href="#e_purple" x="731.1" y="421.8"/>
<use href="#e_purple" x="752.0" y="417.7"/>
<use href="#e_purple" x="772.9" y="427.4"/>
<use href="#e_purple" x="793.9" y="422.1"/>
<use href="#e_purple" x="814.8" y="405.2"/>
<use href="#e_purple" x="835.7" y="448.5"/>
<use href="#e_purple" x="856.7" y="423.1"/>
<use href="#e_dgreen" x="228.7" y="302.0"/>
<use href="#e_dgreen" x="249.6" y="337.4"/>
<use href="#e_dgreen" x="270.5" y="312.0"/>
<use href="#e_dgreen" x="291.5" y="338.4"/>
<use href="#e_dgreen" x="312.4" y="388.3"/>
<use href="#e_dgreen" x="333.3" y="328.8"/>
<use href="#e_dgreen" x="354.3" y="320.0"/>
<use href="#e_dgreen" x="375.2" y="302.0"/>
<use href="#e_dgreen" x="396.1" y="318.5"/>
<use href="#e_dgreen" x="417.1" y="352.8"/>
<use href="#e_dgreen" x="438.0" y="362.8"/>
<use href="#e_dgreen" x="458.9" y="374.8"/>
<use href="#e_dgreen" x="479.9" y="395.4"/>
<use href="#e_dgreen" x="500.8" y="341.5"/>
<use href="#e_dgreen" x="521.7" y="364.2"/>
<use href="#e_dgreen" x="542.7" y="329.7"/>
<use href="#e_dgreen" x="563.6" y="376.4"/>
<use href="#e_dgreen" x="584.5" y="319.6"/>
<use href="#e_dgreen" x="605.5" y="370.5"/>
<use href="#e_dgreen" x="626.4" y="333.1"/>
<use href="#e_dgreen" x="647.3" y="340.9"/>
<use href="#e_dgreen" x="668.3" y="351.4"/>
<use href="#e_dgreen" x="689.2" y="356.9"/>
<use href="#e_dgreen" x="710.1" y="365.3"/>
<use href="#e_dgreen" x="731.1" y="378.7"/>
<use href="#e_dgreen" x="752.0" y="339.4"/>
<use href="#e_dgreen" x="772.9" y="358.7"/>
<use href="#e_dgreen" x="793.9" y="355.0"/>
<use href="#e_dgreen" x="814.8" y="398.3"/>
<use href="#e_dgreen" x="835.7" y="352.9"/>
<use href="#e_dgreen" x="856.7" y="355.4"/>
<use href="#e_orange" x="228.7" y="299.1"/>
<use href="#e_orange" x="249.6" y="276.5"/>
<use href="#e_orange" x="270.5" y="293.5"/>
<use href="#e_orange" x="291.5" y="294.8"/>
<use href="#e_orange" x="312.4" y="253.3"/>
<use href="#e_orange" x="333.3" y="259.2"/>
<use href="#e_orange" x="354.3" y="265.0"/>
<use href="#e_orange" x="375.2" y="314.7"/>
<use href="#e_orange" x="396.1" y="229.4"/>
<use href="#e_orange" x="417.1" y="282.4"/>
<use href="#e_orange" x="438.0" y="262.7"/>
<use href="#e_orange" x="458.9" y="271.1"/>
<use href="#e_orange" x="479.9" y="273.0"/>
<use href="#e_orange" x="500.8" y="273.0"/>
<use href="#e_orange" x="521.7" y="282.9"/>
<use href="#e_orange" x="542.7" y="236.0"/>
<use href="#e_orange" x="563.6" y="296.2"/>
<use href="#e_orange" x="584.5" y="251.3"/>
<use href="#e_orange" x="605.5" y="261.7"/>
<use href="#e_orange" x="626.4" y="269.5"/>
<use href="#e_orange" x="647.3" y="296.4"/>
<use href="#e_orange" x="668.3" y="288.3"/>
<use href="#e_orange" x="689.2" y="238.6"/>
<use href="#e_orange" x="710.1" y="288.7"/>
<use href="#e_orange" x="731.1" y="279.0"/>
<use href="#e_orange" x="752.0" y="258.6"/>
<use href="#e_orange" x="772.9" y="278.5"/>
<use href="#e_orange" x="793.9" y="309.1"/>
<use href="#e_orange" x="814.8" y="271.3"/>
<use href="#e_orange" x="835.7" y="216.0"/>
<use href="#e_orange" x="856.7" y="282.7"/>
</g>
<g font-family="'Liberation Sans', Arial, sans-serif" font-size="18.2" fill="#000">
<text x="234.1" y="48" font-size="18.4">B (G)</text>
<path d="M141.5,64.6H182.8" stroke="#000000" stroke-width="1.85"/>
<g transform="translate(162.2,64.6)" fill="#fff" stroke="#000000" stroke-width="2.2" stroke-linejoin="miter"><rect x="-4.3" y="-4.3" width="8.6" height="8.6"/></g>
<text x="187.3" y="70.7">22.00</text>
<path d="M141.5,86.8H182.8" stroke="#ff0000" stroke-width="1.85"/>
<g transform="translate(162.2,86.8)" fill="#fff" stroke="#ff0000" stroke-width="2.2" stroke-linejoin="round"><circle r="4.45"/></g>
<text x="187.3" y="92.9">24.87</text>
<path d="M141.5,109.0H182.8" stroke="#00ff00" stroke-width="1.85"/>
<g transform="translate(162.2,109.0)" fill="#fff" stroke="#00ff00" stroke-width="2.2" stroke-linejoin="round"><polygon points="0.00,-6.90 5.98,3.45 -5.98,3.45"/></g>
<text x="187.3" y="115.1">27.75</text>
<path d="M141.5,131.2H182.8" stroke="#0000ff" stroke-width="1.85"/>
<g transform="translate(162.2,131.2)" fill="#fff" stroke="#0000ff" stroke-width="2.2" stroke-linejoin="round"><polygon points="0.00,6.90 -5.98,-3.45 5.98,-3.45"/></g>
<text x="187.3" y="137.3">30.53</text>
<path d="M141.5,153.4H182.8" stroke="#ff00ff" stroke-width="1.85"/>
<g transform="translate(162.2,153.4)" fill="#fff" stroke="#ff00ff" stroke-width="2.2" stroke-linejoin="round"><polygon points="-5.7,0 0,-7.0 5.7,0 0,7.0"/></g>
<text x="187.3" y="159.5">33.32</text>
<path d="M269.1,64.6H310.4" stroke="#808000" stroke-width="1.85"/>
<g transform="translate(289.8,64.6)" fill="#fff" stroke="#808000" stroke-width="2.2" stroke-linejoin="round"><polygon points="-6.90,0.00 3.45,-5.98 3.45,5.98"/></g>
<text x="314.8" y="70.7">35.94</text>
<path d="M269.1,86.8H310.4" stroke="#000080" stroke-width="1.85"/>
<g transform="translate(289.8,86.8)" fill="#fff" stroke="#000080" stroke-width="2.2" stroke-linejoin="round"><polygon points="6.90,0.00 -3.45,5.98 -3.45,-5.98"/></g>
<text x="314.8" y="92.9">38.57</text>
<path d="M269.1,109.0H310.4" stroke="#800080" stroke-width="1.85"/>
<g transform="translate(289.8,109.0)" fill="#fff" stroke="#800080" stroke-width="2.2" stroke-linejoin="round"><polygon points="0.00,-5.80 5.02,-2.90 5.02,2.90 0.00,5.80 -5.02,2.90 -5.02,-2.90"/></g>
<text x="314.8" y="115.1">41.33</text>
<path d="M269.1,131.2H310.4" stroke="#008000" stroke-width="1.85"/>
<g transform="translate(289.8,131.2)" fill="#fff" stroke="#008000" stroke-width="2.2" stroke-linejoin="round"><polygon points="0.00,-5.30 1.23,-1.70 5.04,-1.64 2.00,0.65 3.12,4.29 0.00,2.10 -3.12,4.29 -2.00,0.65 -5.04,-1.64 -1.23,-1.70"/></g>
<text x="314.8" y="137.3">44.09</text>
<path d="M269.1,153.4H310.4" stroke="#ff8000" stroke-width="1.85"/>
<g transform="translate(289.8,153.4)" fill="#fff" stroke="#ff8000" stroke-width="2.2" stroke-linejoin="round"><polygon points="0.00,-6.10 5.80,-1.89 3.59,4.94 -3.59,4.94 -5.80,-1.89"/></g>
<text x="314.8" y="159.5">49.26</text>
</g>
</svg>
</body></html>
